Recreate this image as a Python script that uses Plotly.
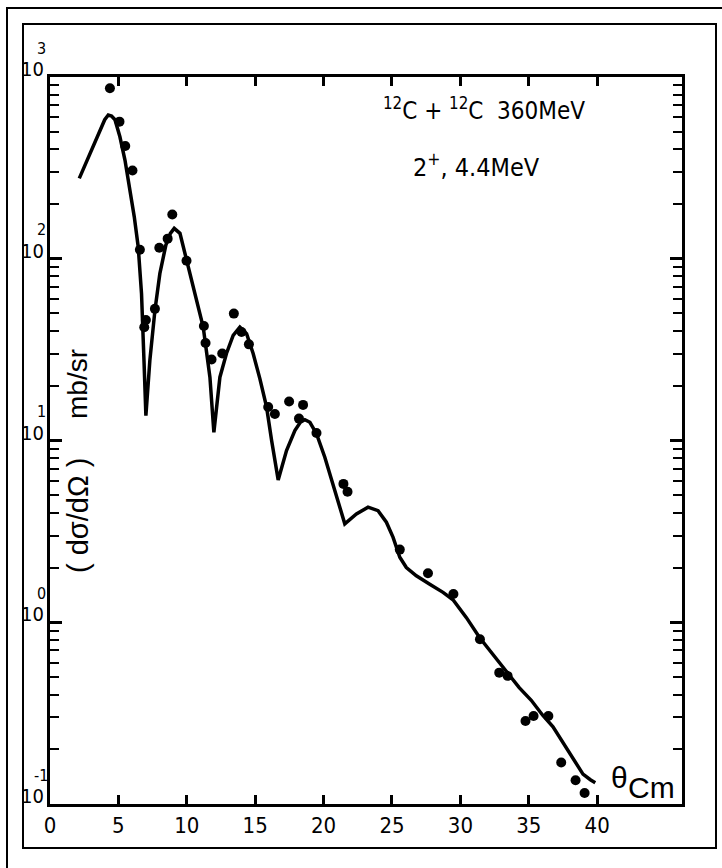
import plotly.graph_objects as go

# Measured 2+ (4.4 MeV) inelastic cross sections, 12C + 12C at 360 MeV
theta_data = [4.38, 5.08, 5.50, 6.03, 6.57, 6.89, 7.01, 7.67, 7.99, 8.60, 8.94,
              9.98, 11.25, 11.37, 11.81, 12.59, 13.44, 14.00, 14.54, 15.95, 16.44,
              17.48, 18.20, 18.50, 19.48, 21.45, 21.75, 25.57, 27.63, 29.49, 31.43,
              32.84, 33.45, 34.76, 35.35, 36.43, 37.37, 38.42, 39.08]
sigma_data = [867, 568, 417, 306, 112, 42, 46, 53, 115, 129, 175,
              97.5, 42.7, 34.4, 27.9, 30.1, 49.9, 39.5, 33.8, 15.3, 14.0,
              16.4, 13.2, 15.7, 11.0, 5.77, 5.22, 2.51, 1.86, 1.43, 0.807,
              0.528, 0.507, 0.286, 0.305, 0.305, 0.169, 0.135, 0.115]

# Calculated angular distribution
theta_calc = [2.14, 2.92, 3.60, 4.00, 4.26, 4.50, 4.75, 5.11, 5.48, 5.84, 6.16,
              6.45, 6.69, 6.87, 7.01, 7.30, 7.67, 8.03, 8.47, 8.80, 9.08, 9.50,
              9.98, 10.59, 11.20, 11.69, 11.98, 12.42, 12.90, 13.39, 13.88, 14.37,
              14.85, 15.34, 15.83, 16.20, 16.68, 17.29, 17.90, 18.30, 18.63, 19.00,
              19.48, 20.09, 20.58, 21.18, 21.55, 22.40, 23.25, 23.98, 24.59, 25.08,
              25.57, 26.05, 26.78, 27.76, 28.73, 29.46, 30.44, 31.40, 32.38, 33.36,
              34.30, 35.18, 36.00, 36.77, 37.50, 38.20, 38.96, 39.50, 39.86]
sigma_calc = [277, 380, 501, 582, 618, 610, 582, 469, 349, 238, 170,
              116, 64.3, 27.6, 13.7, 27.6, 52, 82.8, 119, 138, 147, 138,
              98, 64.3, 42.1, 22.3, 11.1, 22.3, 30.1, 37.9, 42.1, 38.7,
              30.1, 21.9, 15.3, 10.0, 6.07, 8.81, 11.35, 12.6, 13.0, 12.6,
              10.9, 8.09, 6.03, 4.30, 3.48, 3.94, 4.30, 4.11, 3.55, 2.93,
              2.28, 2.00, 1.80, 1.62, 1.46, 1.33, 1.06, 0.824, 0.668, 0.541,
              0.437, 0.372, 0.309, 0.266, 0.219, 0.180, 0.146, 0.136, 0.131]

x_ticks = [0, 5, 10, 15, 20, 25, 30, 35, 40]
y_exponents = [-1, 0, 1, 2, 3]

W, H = 722, 868
L, R, T, B = 50, 682, 77, 804          # plot-area edges in pixels
COND = "DejaVu Sans Condensed, Liberation Sans Narrow, Liberation Sans, sans-serif"
REGULAR = "Liberation Sans, Arial, sans-serif"


def px(xp):
    return (xp - L) / (R - L)


def py(yp):
    return (B - yp) / (B - T)


fig = go.Figure()
fig.add_trace(go.Scatter(x=theta_calc, y=sigma_calc, mode="lines",
                         line=dict(color="black", width=3.5), hoverinfo="skip"))
fig.add_trace(go.Scatter(x=theta_data, y=sigma_data, mode="markers",
                         marker=dict(color="black", size=10), hoverinfo="skip"))

minor_vals = [m * 10.0 ** e for e in range(-1, 3) for m in range(2, 10)]

fig.update_layout(
    width=W, height=H,
    margin=dict(l=L, r=W - R, t=T, b=H - B),
    paper_bgcolor="white", plot_bgcolor="white",
    showlegend=False,
    xaxis=dict(range=[0, 46.2], tickmode="array", tickvals=x_ticks,
               ticks="inside", ticklen=9, tickwidth=2.5, tickcolor="black",
               showline=True, linewidth=2.5, linecolor="black", mirror="allticks",
               showgrid=False, zeroline=False,
               tickfont=dict(family=COND, size=22, color="black")),
    yaxis=dict(type="log", range=[-1, 3], dtick=1, showticklabels=False,
               ticks="inside", ticklen=12, tickwidth=2.5, tickcolor="black",
               showline=True, linewidth=2.5, linecolor="black", mirror="allticks",
               showgrid=False, zeroline=False,
               minor=dict(tickvals=minor_vals, ticks="inside",
                          ticklen=9, tickwidth=2, tickcolor="black", showgrid=False)),
)

ann = []
# decade labels on the left axis: "10" with the exponent raised above it
for e in y_exponents:
    yp = B - (e + 1) / 4 * (B - T)
    ann.append(dict(text="10", x=px(46), y=py(yp - 8), xref="paper", yref="paper",
                    xanchor="right", yanchor="middle", showarrow=False,
                    font=dict(family=COND, size=20, color="black")))
    ann.append(dict(text=str(e), x=px(41), y=py(yp - 29), xref="paper", yref="paper",
                    xanchor="center", yanchor="middle", showarrow=False,
                    font=dict(family=COND, size=16, color="black")))

ann += [
    dict(text="<sup>12</sup>C + <sup>12</sup>C  360MeV", x=px(381), y=py(109),
         xref="paper", yref="paper", xanchor="left", yanchor="middle",
         showarrow=False, font=dict(family=COND, size=24, color="black")),
    dict(text="2<sup>+</sup>, 4.4MeV", x=px(411), y=py(166),
         xref="paper", yref="paper", xanchor="left", yanchor="middle",
         showarrow=False, font=dict(family=COND, size=25, color="black")),
    dict(text="(\u00a0dσ/dΩ\u00a0)", x=px(78), y=py(516), xref="paper", yref="paper",
         textangle=-90, xanchor="center", yanchor="middle", showarrow=False,
         font=dict(family=REGULAR, size=29, color="black")),
    dict(text="mb/sr", x=px(78), y=py(384), xref="paper", yref="paper",
         textangle=-90, xanchor="center", yanchor="middle", showarrow=False,
         font=dict(family=REGULAR, size=28, color="black")),
    dict(text="θ", x=px(619), y=py(777), xref="paper", yref="paper",
         xanchor="center", yanchor="middle", showarrow=False,
         font=dict(family=REGULAR, size=30, color="black")),
    dict(text="Cm", x=px(651), y=py(787), xref="paper", yref="paper",
         xanchor="center", yanchor="middle", showarrow=False,
         font=dict(family=REGULAR, size=30, color="black")),
]
fig.update_layout(annotations=ann)

# double border around the figure
fig.add_shape(type="rect", xref="paper", yref="paper", layer="below",
              x0=px(23), x1=px(716), y0=py(848), y1=py(24),
              line=dict(color="black", width=2))
fig.add_shape(type="rect", xref="paper", yref="paper", layer="below",
              x0=px(7), x1=px(740), y0=py(890), y1=py(8),
              line=dict(color="black", width=2))

fig.write_html("out.html")
